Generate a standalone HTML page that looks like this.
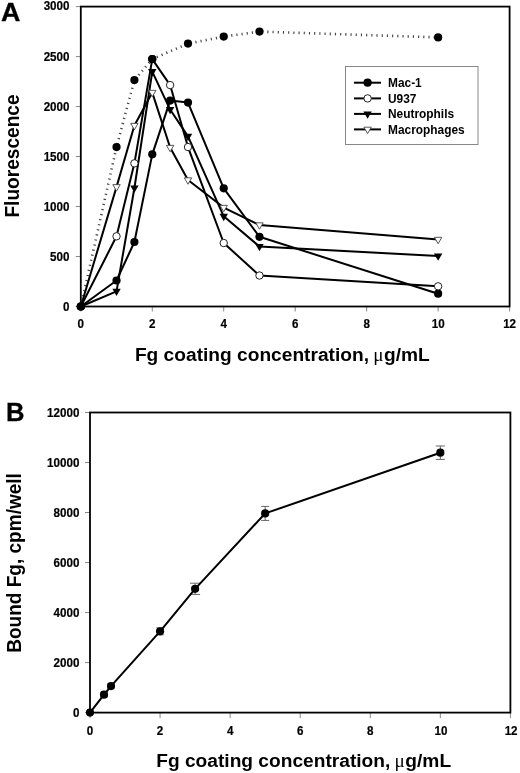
<!DOCTYPE html>
<html><head><meta charset="utf-8"><title>Figure</title>
<style>
html,body{margin:0;padding:0;background:#fff;}
body{width:520px;height:773px;overflow:hidden;font-family:"Liberation Sans",sans-serif;}
svg{display:block;filter:grayscale(1);}
text{font-family:"Liberation Sans",sans-serif;font-weight:bold;fill:#000;}
.tk{font-size:12.1px;stroke:#000;stroke-width:0.2px;}
.ttl{font-size:19.2px;}
.pl{font-size:25.6px;stroke:#000;stroke-width:0.3px;}
.vt{font-size:19.7px;}
.lg{font-size:11.9px;}
.sym{font-family:"Liberation Serif",serif;font-weight:normal;}
</style></head><body>
<svg width="520" height="773" viewBox="0 0 520 773">
<rect width="520" height="773" fill="#fff"/>

<g id="panelA">
<line x1="75.80" y1="306.50" x2="80.80" y2="306.50" stroke="#888" stroke-width="1"/>
<text class="tk" transform="translate(69.50,310.50) scale(0.96,1)" text-anchor="end">0</text>
<line x1="75.80" y1="256.52" x2="80.80" y2="256.52" stroke="#888" stroke-width="1"/>
<text class="tk" transform="translate(69.50,260.52) scale(0.96,1)" text-anchor="end">500</text>
<line x1="75.80" y1="206.53" x2="80.80" y2="206.53" stroke="#888" stroke-width="1"/>
<text class="tk" transform="translate(69.50,210.53) scale(0.96,1)" text-anchor="end">1000</text>
<line x1="75.80" y1="156.55" x2="80.80" y2="156.55" stroke="#888" stroke-width="1"/>
<text class="tk" transform="translate(69.50,160.55) scale(0.96,1)" text-anchor="end">1500</text>
<line x1="75.80" y1="106.57" x2="80.80" y2="106.57" stroke="#888" stroke-width="1"/>
<text class="tk" transform="translate(69.50,110.57) scale(0.96,1)" text-anchor="end">2000</text>
<line x1="75.80" y1="56.58" x2="80.80" y2="56.58" stroke="#888" stroke-width="1"/>
<text class="tk" transform="translate(69.50,60.58) scale(0.96,1)" text-anchor="end">2500</text>
<line x1="75.80" y1="6.60" x2="80.80" y2="6.60" stroke="#888" stroke-width="1"/>
<text class="tk" transform="translate(69.50,10.10) scale(0.96,1)" text-anchor="end">3000</text>
<line x1="80.80" y1="306.50" x2="80.80" y2="311.50" stroke="#888" stroke-width="1"/>
<text class="tk" transform="translate(80.80,328.10) scale(0.96,1)" text-anchor="middle">0</text>
<line x1="152.27" y1="306.50" x2="152.27" y2="311.50" stroke="#888" stroke-width="1"/>
<text class="tk" transform="translate(152.27,328.10) scale(0.96,1)" text-anchor="middle">2</text>
<line x1="223.73" y1="306.50" x2="223.73" y2="311.50" stroke="#888" stroke-width="1"/>
<text class="tk" transform="translate(223.73,328.10) scale(0.96,1)" text-anchor="middle">4</text>
<line x1="295.20" y1="306.50" x2="295.20" y2="311.50" stroke="#888" stroke-width="1"/>
<text class="tk" transform="translate(295.20,328.10) scale(0.96,1)" text-anchor="middle">6</text>
<line x1="366.67" y1="306.50" x2="366.67" y2="311.50" stroke="#888" stroke-width="1"/>
<text class="tk" transform="translate(366.67,328.10) scale(0.96,1)" text-anchor="middle">8</text>
<line x1="438.13" y1="306.50" x2="438.13" y2="311.50" stroke="#888" stroke-width="1"/>
<text class="tk" transform="translate(438.13,328.10) scale(0.96,1)" text-anchor="middle">10</text>
<line x1="509.60" y1="306.50" x2="509.60" y2="311.50" stroke="#888" stroke-width="1"/>
<text class="tk" transform="translate(509.60,328.10) scale(0.96,1)" text-anchor="middle">12</text>
<rect x="80.80" y="6.60" width="428.80" height="299.90" fill="none" stroke="#000" stroke-width="1.8"/>
<polyline points="80.80,306.50 116.53,147.05 134.40,80.08 152.27,59.08 188.00,43.59 223.73,36.59 259.47,31.59 438.13,37.39" fill="none" stroke="#444" stroke-width="2.6" stroke-dasharray="1.15 4.05"/>
<polyline points="80.80,306.50 116.53,280.51 134.40,242.02 152.27,154.35 170.13,100.57 188.00,102.57 223.73,188.34 259.47,236.82 438.13,293.70" fill="none" stroke="#000" stroke-width="2" stroke-linejoin="round"/>
<polyline points="80.80,306.50 116.53,236.32 134.40,163.35 152.27,59.08 170.13,85.07 188.00,147.05 223.73,243.02 259.47,275.51 438.13,286.31" fill="none" stroke="#000" stroke-width="2" stroke-linejoin="round"/>
<polyline points="80.80,306.50 116.53,291.31 134.40,188.04 152.27,71.58 170.13,109.57 188.00,136.36 223.73,216.33 259.47,246.52 438.13,256.02" fill="none" stroke="#000" stroke-width="2" stroke-linejoin="round"/>
<polyline points="80.80,306.50 116.53,186.84 134.40,125.56 152.27,92.57 170.13,147.55 188.00,180.04 223.73,207.53 259.47,225.03 438.13,239.52" fill="none" stroke="#000" stroke-width="2" stroke-linejoin="round"/>
<circle cx="80.80" cy="306.50" r="4.10" fill="#000"/>
<circle cx="116.53" cy="147.05" r="4.10" fill="#000"/>
<circle cx="134.40" cy="80.08" r="4.10" fill="#000"/>
<circle cx="152.27" cy="59.08" r="4.10" fill="#000"/>
<circle cx="188.00" cy="43.59" r="4.10" fill="#000"/>
<circle cx="223.73" cy="36.59" r="4.10" fill="#000"/>
<circle cx="259.47" cy="31.59" r="4.10" fill="#000"/>
<circle cx="438.13" cy="37.39" r="4.10" fill="#000"/>
<circle cx="80.80" cy="306.50" r="4.10" fill="#000"/>
<circle cx="116.53" cy="280.51" r="4.10" fill="#000"/>
<circle cx="134.40" cy="242.02" r="4.10" fill="#000"/>
<circle cx="152.27" cy="154.35" r="4.10" fill="#000"/>
<circle cx="170.13" cy="100.57" r="4.10" fill="#000"/>
<circle cx="188.00" cy="102.57" r="4.10" fill="#000"/>
<circle cx="223.73" cy="188.34" r="4.10" fill="#000"/>
<circle cx="259.47" cy="236.82" r="4.10" fill="#000"/>
<circle cx="438.13" cy="293.70" r="4.10" fill="#000"/>
<circle cx="116.53" cy="236.32" r="3.70" fill="#fff" stroke="#222" stroke-width="1"/>
<circle cx="134.40" cy="163.35" r="3.70" fill="#fff" stroke="#222" stroke-width="1"/>
<circle cx="170.13" cy="85.07" r="3.70" fill="#fff" stroke="#222" stroke-width="1"/>
<circle cx="188.00" cy="147.05" r="3.70" fill="#fff" stroke="#222" stroke-width="1"/>
<circle cx="223.73" cy="243.02" r="3.70" fill="#fff" stroke="#222" stroke-width="1"/>
<circle cx="259.47" cy="275.51" r="3.70" fill="#fff" stroke="#222" stroke-width="1"/>
<circle cx="438.13" cy="286.31" r="3.70" fill="#fff" stroke="#222" stroke-width="1"/>
<polygon points="112.33,288.81 120.73,288.81 116.53,296.11" fill="#000"/>
<polygon points="130.20,185.54 138.60,185.54 134.40,192.84" fill="#000"/>
<polygon points="148.07,69.08 156.47,69.08 152.27,76.38" fill="#000"/>
<polygon points="165.93,107.07 174.33,107.07 170.13,114.37" fill="#000"/>
<polygon points="183.80,133.86 192.20,133.86 188.00,141.16" fill="#000"/>
<polygon points="219.53,213.83 227.93,213.83 223.73,221.13" fill="#000"/>
<polygon points="255.27,244.02 263.67,244.02 259.47,251.32" fill="#000"/>
<polygon points="433.93,253.52 442.33,253.52 438.13,260.82" fill="#000"/>
<polygon points="112.83,184.64 120.23,184.64 116.53,191.04" fill="#fff" stroke="#444" stroke-width="0.9"/>
<polygon points="130.70,123.36 138.10,123.36 134.40,129.76" fill="#fff" stroke="#444" stroke-width="0.9"/>
<polygon points="148.57,90.37 155.97,90.37 152.27,96.77" fill="#fff" stroke="#444" stroke-width="0.9"/>
<polygon points="166.43,145.35 173.83,145.35 170.13,151.75" fill="#fff" stroke="#444" stroke-width="0.9"/>
<polygon points="184.30,177.84 191.70,177.84 188.00,184.24" fill="#fff" stroke="#444" stroke-width="0.9"/>
<polygon points="220.03,205.33 227.43,205.33 223.73,211.73" fill="#fff" stroke="#444" stroke-width="0.9"/>
<polygon points="255.77,222.83 263.17,222.83 259.47,229.23" fill="#fff" stroke="#444" stroke-width="0.9"/>
<polygon points="434.43,237.32 441.83,237.32 438.13,243.72" fill="#fff" stroke="#444" stroke-width="0.9"/>
<circle cx="80.80" cy="306.50" r="4.10" fill="#000"/>
<circle cx="152.27" cy="59.08" r="4.10" fill="#000"/>
<rect x="345.5" y="66.5" width="132.5" height="78" fill="#fff" stroke="#888" stroke-width="1"/>
<line x1="354" y1="82.70" x2="381" y2="82.70" stroke="#000" stroke-width="2"/>
<circle cx="367.60" cy="82.70" r="4.10" fill="#000"/>
<text class="lg" x="388" y="86.90">Mac-1</text>
<line x1="354" y1="98.40" x2="381" y2="98.40" stroke="#000" stroke-width="2"/>
<circle cx="367.60" cy="98.40" r="3.70" fill="#fff" stroke="#222" stroke-width="1"/>
<text class="lg" x="388" y="102.60">U937</text>
<line x1="354" y1="113.90" x2="381" y2="113.90" stroke="#000" stroke-width="2"/>
<polygon points="363.40,111.40 371.80,111.40 367.60,118.70" fill="#000"/>
<text class="lg" x="388" y="118.10">Neutrophils</text>
<line x1="354" y1="129.40" x2="381" y2="129.40" stroke="#000" stroke-width="2"/>
<polygon points="363.90,127.20 371.30,127.20 367.60,133.60" fill="#fff" stroke="#444" stroke-width="0.9"/>
<text class="lg" x="388" y="133.60">Macrophages</text>
<text class="pl" transform="translate(1.1,20.5) scale(1.05,1)">A</text>
<text class="ttl" transform="translate(134.9,361.3) scale(0.9983,1)">Fg coating concentration, <tspan class="sym" dx="-1.2">&#956;</tspan><tspan dx="0.6">g/mL</tspan></text>
<text class="vt" transform="translate(18.8,217.6) rotate(-90) scale(0.9705,1)">Fluorescence</text>
</g>
<g id="panelB">
<line x1="85.00" y1="712.60" x2="90.00" y2="712.60" stroke="#888" stroke-width="1"/>
<text class="tk" transform="translate(79.40,717.20) scale(0.96,1)" text-anchor="end">0</text>
<line x1="85.00" y1="662.58" x2="90.00" y2="662.58" stroke="#888" stroke-width="1"/>
<text class="tk" transform="translate(79.40,666.78) scale(0.96,1)" text-anchor="end">2000</text>
<line x1="85.00" y1="612.57" x2="90.00" y2="612.57" stroke="#888" stroke-width="1"/>
<text class="tk" transform="translate(79.40,616.77) scale(0.96,1)" text-anchor="end">4000</text>
<line x1="85.00" y1="562.55" x2="90.00" y2="562.55" stroke="#888" stroke-width="1"/>
<text class="tk" transform="translate(79.40,566.75) scale(0.96,1)" text-anchor="end">6000</text>
<line x1="85.00" y1="512.53" x2="90.00" y2="512.53" stroke="#888" stroke-width="1"/>
<text class="tk" transform="translate(79.40,516.73) scale(0.96,1)" text-anchor="end">8000</text>
<line x1="85.00" y1="462.52" x2="90.00" y2="462.52" stroke="#888" stroke-width="1"/>
<text class="tk" transform="translate(79.40,466.72) scale(0.96,1)" text-anchor="end">10000</text>
<line x1="85.00" y1="412.50" x2="90.00" y2="412.50" stroke="#888" stroke-width="1"/>
<text class="tk" transform="translate(79.40,416.70) scale(0.96,1)" text-anchor="end">12000</text>
<line x1="90.00" y1="712.60" x2="90.00" y2="718.10" stroke="#888" stroke-width="1"/>
<text class="tk" transform="translate(90.00,735.20) scale(0.96,1)" text-anchor="middle">0</text>
<line x1="160.07" y1="712.60" x2="160.07" y2="718.10" stroke="#888" stroke-width="1"/>
<text class="tk" transform="translate(160.07,735.20) scale(0.96,1)" text-anchor="middle">2</text>
<line x1="230.13" y1="712.60" x2="230.13" y2="718.10" stroke="#888" stroke-width="1"/>
<text class="tk" transform="translate(230.13,735.20) scale(0.96,1)" text-anchor="middle">4</text>
<line x1="300.20" y1="712.60" x2="300.20" y2="718.10" stroke="#888" stroke-width="1"/>
<text class="tk" transform="translate(300.20,735.20) scale(0.96,1)" text-anchor="middle">6</text>
<line x1="370.27" y1="712.60" x2="370.27" y2="718.10" stroke="#888" stroke-width="1"/>
<text class="tk" transform="translate(370.27,735.20) scale(0.96,1)" text-anchor="middle">8</text>
<line x1="440.33" y1="712.60" x2="440.33" y2="718.10" stroke="#888" stroke-width="1"/>
<text class="tk" transform="translate(441.03,735.20) scale(0.96,1)" text-anchor="middle">10</text>
<line x1="510.40" y1="712.60" x2="510.40" y2="718.10" stroke="#888" stroke-width="1"/>
<text class="tk" transform="translate(511.10,735.20) scale(0.96,1)" text-anchor="middle">12</text>
<rect x="90.00" y="412.50" width="420.40" height="300.10" fill="none" stroke="#000" stroke-width="1.8"/>
<path d="M104.01 692.19V697.19M100.51 692.19H107.51M100.51 697.19H107.51" stroke="#666" stroke-width="1" fill="none"/>
<path d="M111.02 683.59V688.59M107.52 683.59H114.52M107.52 688.59H114.52" stroke="#666" stroke-width="1" fill="none"/>
<path d="M160.07 627.82V634.82M156.32 627.82H163.82M156.32 634.82H163.82" stroke="#666" stroke-width="1" fill="none"/>
<path d="M195.10 583.21V594.41M190.10 583.21H200.10M190.10 594.41H200.10" stroke="#666" stroke-width="1" fill="none"/>
<path d="M265.17 506.43V520.43M261.17 506.43H269.17M261.17 520.43H269.17" stroke="#666" stroke-width="1" fill="none"/>
<path d="M440.33 446.01V459.41M435.83 446.01H444.83M435.83 459.41H444.83" stroke="#666" stroke-width="1" fill="none"/>
<polyline points="90.00,712.60 104.01,694.69 111.02,686.09 160.07,631.32 195.10,588.81 265.17,513.43 440.33,452.71" fill="none" stroke="#000" stroke-width="2" stroke-linejoin="round"/>
<circle cx="90.00" cy="712.60" r="4.10" fill="#000"/>
<circle cx="104.01" cy="694.69" r="4.10" fill="#000"/>
<circle cx="111.02" cy="686.09" r="4.10" fill="#000"/>
<circle cx="160.07" cy="631.32" r="4.10" fill="#000"/>
<circle cx="195.10" cy="588.81" r="4.10" fill="#000"/>
<circle cx="265.17" cy="513.43" r="4.10" fill="#000"/>
<circle cx="440.33" cy="452.71" r="4.10" fill="#000"/>
<text class="pl" x="6.1" y="420.8">B</text>
<text class="ttl" transform="translate(156.2,766.9) scale(0.9983,1)">Fg coating concentration, <tspan class="sym" dx="-1.2">&#956;</tspan><tspan dx="0.6">g/mL</tspan></text>
<text class="vt" transform="translate(20.5,652.8) rotate(-90) scale(0.9663,1)">Bound Fg, cpm/well</text>
</g>
</svg></body></html>
